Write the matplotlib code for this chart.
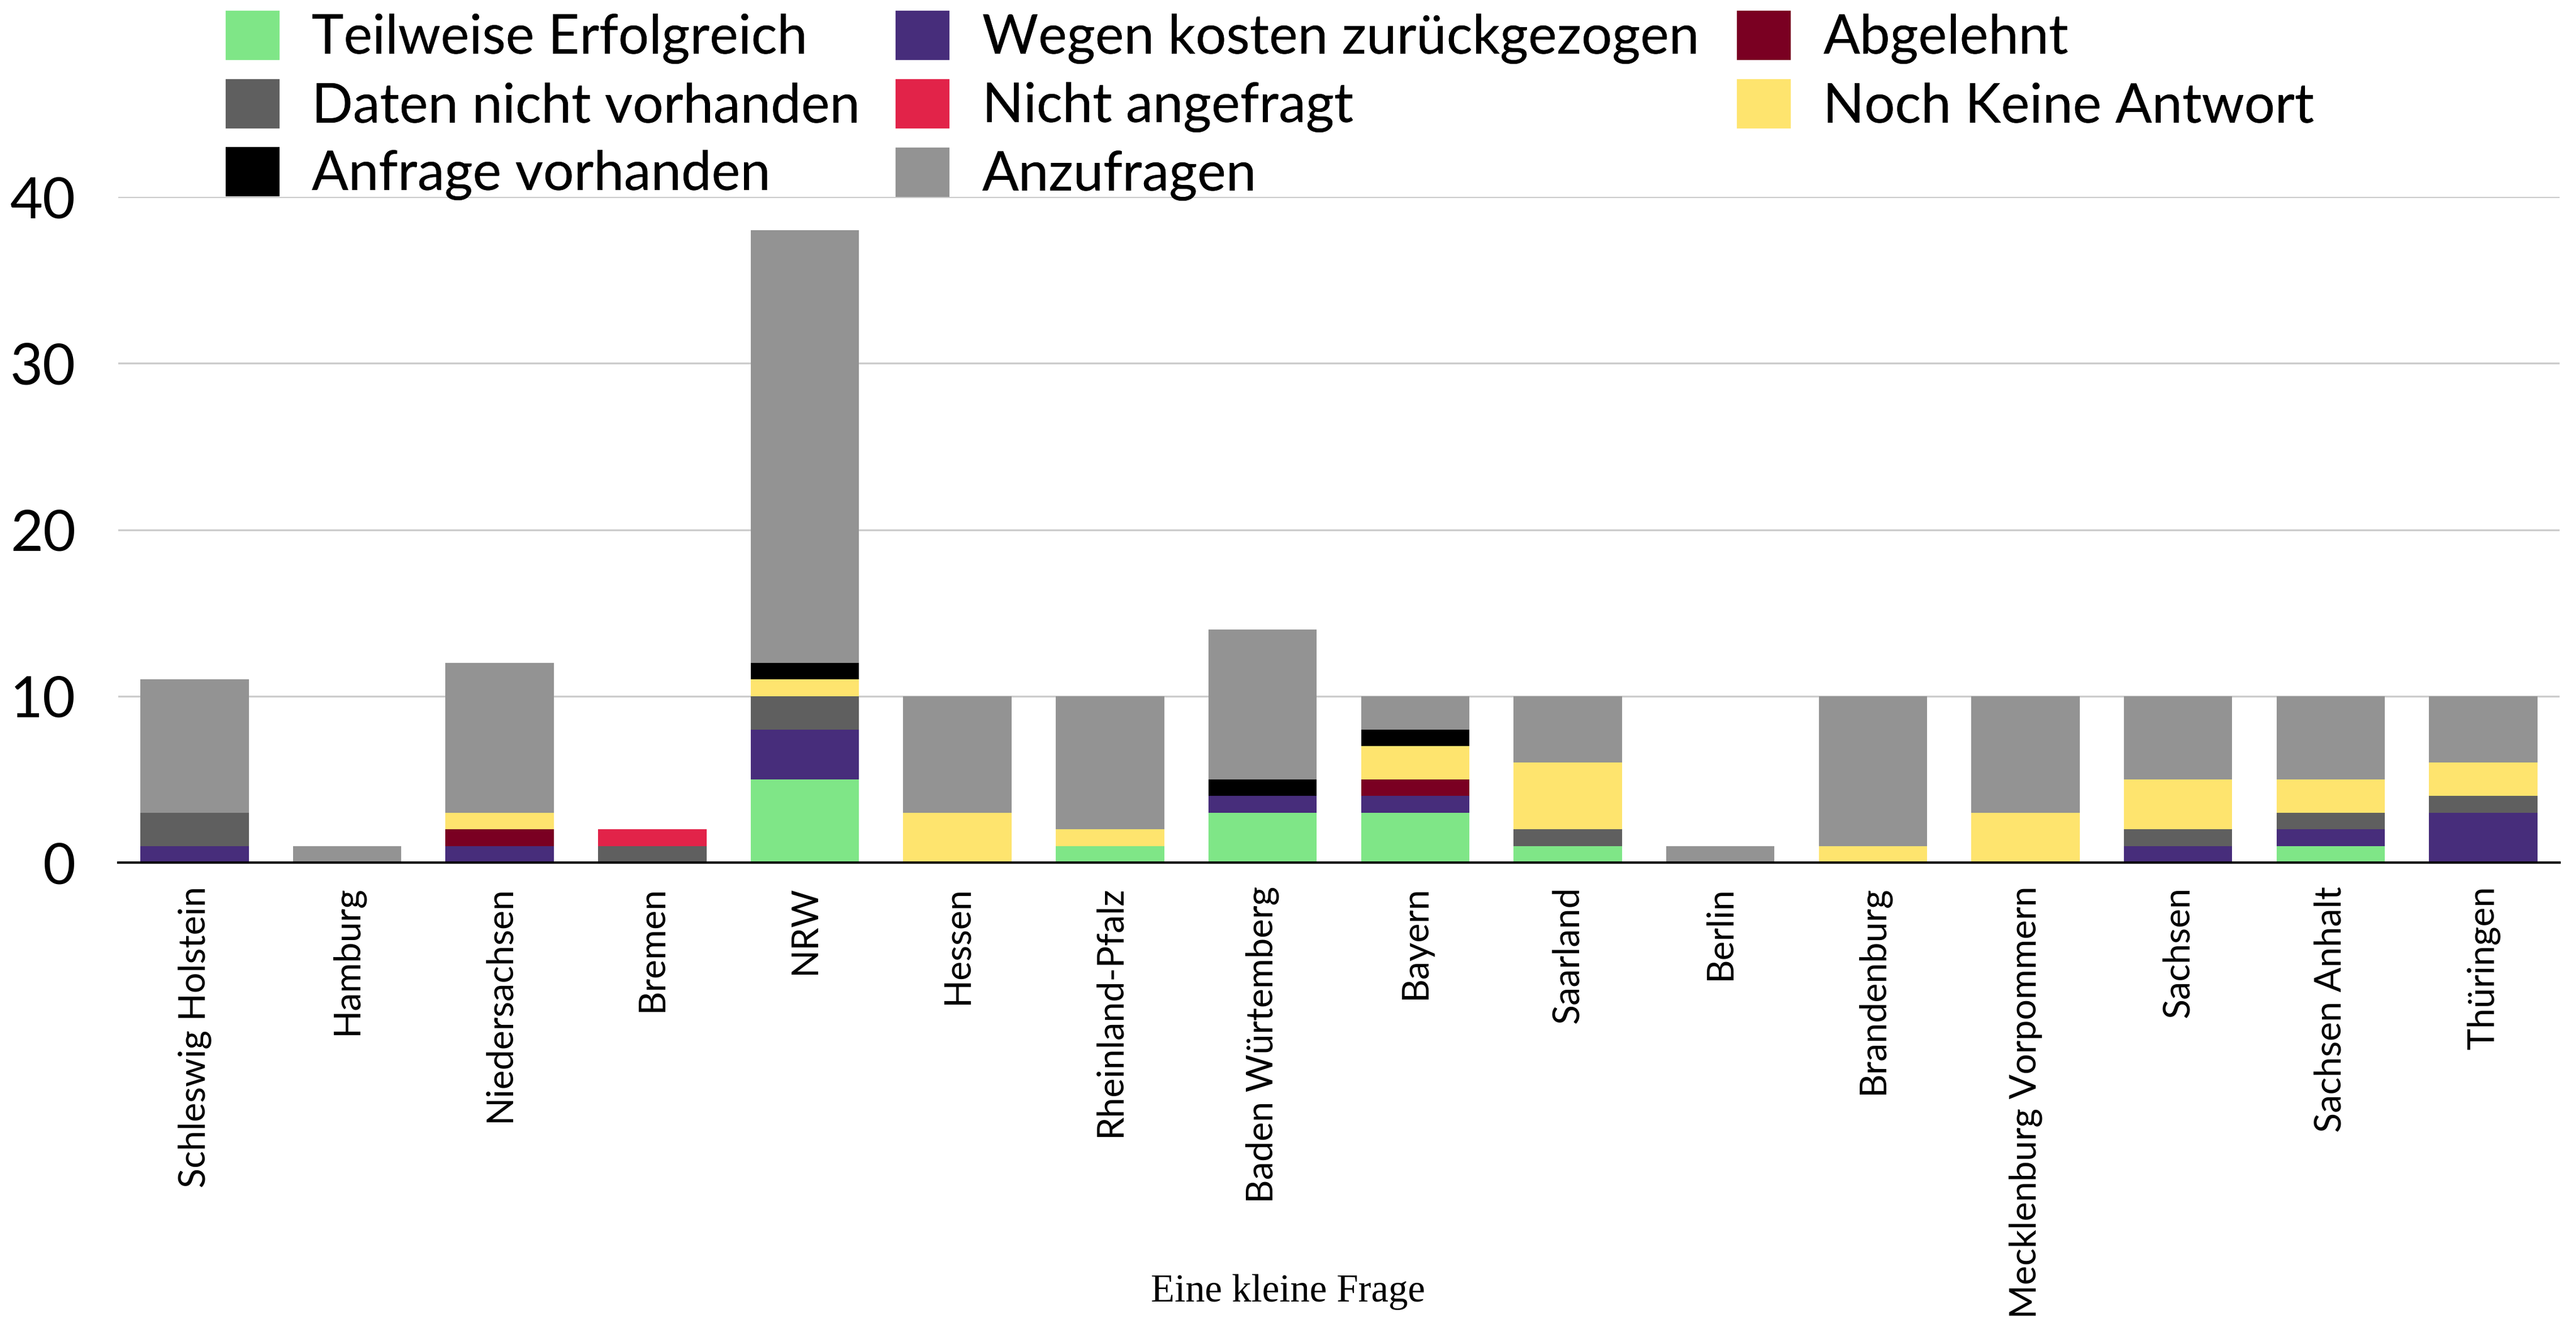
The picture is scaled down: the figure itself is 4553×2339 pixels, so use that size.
import numpy as np
import matplotlib.pyplot as plt
from matplotlib.patches import Patch

laender = ["Schleswig Holstein", "Hamburg", "Niedersachsen", "Bremen", "NRW", "Hessen",
           "Rheinland-Pfalz", "Baden Würtemberg", "Bayern", "Saarland", "Berlin",
           "Brandenburg", "Mecklenburg Vorpommern", "Sachsen", "Sachsen Anhalt", "Thüringen"]

# counts per state, stacked bottom to top in this order
teilweise = [0, 0, 0, 0, 5, 0, 1, 3, 3, 1, 0, 0, 0, 0, 1, 0]
kosten = [1, 0, 1, 0, 3, 0, 0, 1, 1, 0, 0, 0, 0, 1, 1, 3]
abgelehnt = [0, 0, 1, 0, 0, 0, 0, 0, 1, 0, 0, 0, 0, 0, 0, 0]
keine_daten = [2, 0, 0, 1, 2, 0, 0, 0, 0, 1, 0, 0, 0, 1, 1, 1]
nicht_angefragt = [0, 0, 0, 1, 0, 0, 0, 0, 0, 0, 0, 0, 0, 0, 0, 0]
keine_antwort = [0, 0, 1, 0, 1, 3, 1, 0, 2, 4, 0, 1, 3, 3, 2, 2]
anfrage = [0, 0, 0, 0, 1, 0, 0, 1, 1, 0, 0, 0, 0, 0, 0, 0]
anzufragen = [8, 1, 9, 0, 26, 7, 8, 9, 2, 4, 1, 9, 7, 5, 5, 4]

serien = [
    ("Teilweise Erfolgreich", teilweise, "#7fe687"),
    ("Wegen kosten zurückgezogen", kosten, "#472d7b"),
    ("Abgelehnt", abgelehnt, "#7a0022"),
    ("Daten nicht vorhanden", keine_daten, "#5f5f5f"),
    ("Nicht angefragt", nicht_angefragt, "#e22349"),
    ("Noch Keine Antwort", keine_antwort, "#fee46e"),
    ("Anfrage vorhanden", anfrage, "#000000"),
    ("Anzufragen", anzufragen, "#939393"),
]

schrift = ["Lato", "DejaVu Sans"]

fig = plt.figure(figsize=(4553 / 300, 2339 / 300), dpi=300)
ax = fig.add_axes([0.0459, 0.348, 0.9477, 0.5032])

x = np.arange(len(laender))
bottom = np.zeros(len(laender))
for name, vals, col in serien:
    ax.bar(x, vals, 0.71, bottom=bottom, color=col, label=name, zorder=2)
    bottom += np.array(vals)

ax.set_xlim(-0.5, len(laender) - 0.5)
ax.set_ylim(0, 40)
ax.set_yticks([0, 10, 20, 30, 40])
ax.grid(axis="y", color="#cccccc", linewidth=0.8, zorder=0)
ax.set_axisbelow(True)
for s in ["top", "right", "left"]:
    ax.spines[s].set_visible(False)
ax.spines["bottom"].set_color("black")
ax.spines["bottom"].set_linewidth(1.0)
ax.spines["bottom"].set_zorder(3)

ax.tick_params(axis="y", length=0, pad=18)
ax.tick_params(axis="x", length=0, pad=10)
ax.set_xticks(x)
ax.set_xticklabels(laender, rotation=90, fontsize=15.5, family=schrift)
for lab in ax.get_yticklabels():
    lab.set_fontsize(24)
    lab.set_family(schrift)

fig.text(0.5, 0.01, "Eine kleine Frage", ha="center", va="bottom", fontsize=16.5,
         family=["Liberation Serif", "DejaVu Serif"])

# legend as three columns, each placed on its own
spalten = [([0, 3, 6], 0.088), ([1, 4, 7], 0.3482), ([2, 5], 0.6747)]
for idx, xpos in spalten:
    leg = fig.legend([Patch(color=serien[i][2]) for i in idx],
                     [serien[i][0] for i in idx],
                     loc="upper left", bbox_to_anchor=(xpos, 0.991),
                     frameon=False, borderpad=0, borderaxespad=0, handlelength=0.95,
                     handleheight=0.95, handletextpad=0.62, labelspacing=0.3,
                     prop={"family": schrift, "size": 23})
    fig.add_artist(leg)

fig.savefig("out.png", dpi=300)
